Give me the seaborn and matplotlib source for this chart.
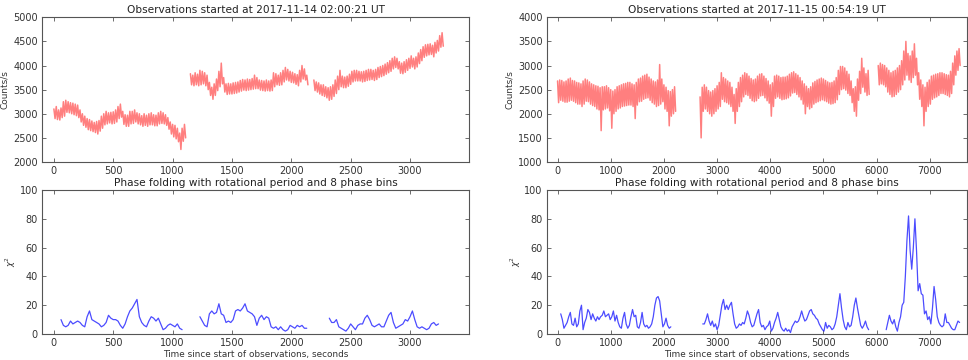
import numpy as np
import pandas as pd
import matplotlib
matplotlib.use("Agg")
import matplotlib.pyplot as plt
import seaborn as sns

# ---------------- data ----------------
titles_top = ["Observations started at 2017-11-14 02:00:21 UT",
              "Observations started at 2017-11-15 00:54:19 UT"]
title_bottom = "Phase folding with rotational period and 8 phase bins"
xlabel = "Time since start of observations, seconds"

# Light curves: upper and lower extent of the noisy count rate, sampled every `step` s.
# left panel (step 20 s)
l_rate_step = 20
l_seg1_start = 0
l_seg1_hi = [3100, 3150, 3080, 3120, 3250, 3280, 3250, 3230, 3220, 3200, 3180, 3080, 3000, 2950, 2900, 2880,
             2850, 2820, 2840, 2860, 2950, 3000, 3050, 3020, 3030, 3040, 3080, 3150, 3200, 3050, 2980, 2970,
             3050, 3050, 3080, 3020, 3000, 2960, 3000, 2970, 3000, 3020, 2980, 2970, 3020, 3050, 3020, 2980,
             2920, 2830, 2780, 2760, 2700, 2600, 2700, 2780]
l_seg1_lo = [2900, 2880, 2870, 2920, 2950, 3030, 3020, 3000, 2980, 2960, 2920, 2830, 2760, 2720, 2670, 2650,
             2630, 2610, 2580, 2640, 2700, 2770, 2790, 2810, 2790, 2800, 2830, 2900, 2930, 2780, 2740, 2740,
             2790, 2800, 2830, 2790, 2770, 2740, 2760, 2740, 2770, 2770, 2750, 2750, 2790, 2800, 2790, 2760,
             2680, 2580, 2520, 2480, 2420, 2260, 2430, 2500]
l_seg2_start = 1150
l_seg2_hi = [3830, 3800, 3850, 3820, 3900, 3880, 3850, 3800, 3650, 3550, 3620, 3720, 3880, 4050, 3750, 3620,
             3630, 3620, 3640, 3650, 3660, 3690, 3710, 3700, 3720, 3710, 3730, 3800, 3750, 3700, 3690, 3680,
             3700, 3680, 3700, 3850, 3830, 3800, 3850, 3900, 3960, 3920, 3880, 3860, 3830, 3810, 3900, 4000,
             3930, 3800]
l_seg2_lo = [3600, 3580, 3600, 3580, 3600, 3620, 3580, 3500, 3380, 3300, 3380, 3480, 3560, 3620, 3450, 3400,
             3410, 3410, 3420, 3430, 3450, 3470, 3490, 3480, 3490, 3500, 3510, 3520, 3520, 3490, 3480, 3470,
             3480, 3470, 3480, 3560, 3600, 3590, 3600, 3660, 3700, 3680, 3650, 3640, 3610, 3580, 3660, 3720,
             3700, 3600]
l_seg3_start = 2190
l_seg3_hi = [3700, 3660, 3640, 3600, 3600, 3560, 3540, 3560, 3600, 3700, 3780, 3900, 3780, 3760, 3780, 3820,
             3880, 3900, 3900, 3880, 3870, 3880, 3900, 3920, 3920, 3900, 3920, 3960, 3980, 4000, 4030, 4060,
             4100, 4150, 4180, 4150, 4080, 4050, 4080, 4120, 4150, 4200, 4150, 4180, 4260, 4330, 4390, 4430,
             4440, 4450, 4420, 4480, 4520, 4620, 4680]
l_seg3_lo = [3480, 3450, 3410, 3380, 3360, 3330, 3280, 3300, 3360, 3420, 3500, 3560, 3540, 3540, 3570, 3610,
             3660, 3680, 3680, 3680, 3660, 3670, 3690, 3700, 3710, 3690, 3710, 3750, 3770, 3790, 3820, 3850,
             3880, 3930, 3960, 3930, 3840, 3830, 3860, 3900, 3940, 3970, 3930, 3970, 4040, 4100, 4170, 4200,
             4220, 4230, 4180, 4260, 4300, 4380, 4400]

# right panel (step 40 s)
r_rate_step = 40
r_seg1_start = 0
r_seg1_hi = [2680, 2700, 2690, 2660, 2680, 2720, 2740, 2690, 2680, 2650, 2640, 2620, 2680, 2720, 2700, 2660,
             2620, 2600, 2580, 2570, 2540, 2560, 2560, 2580, 2540, 2500, 2470, 2500, 2560, 2580, 2600, 2620,
             2630, 2650, 2650, 2620, 2600, 2650, 2720, 2740, 2780, 2800, 2820, 2760, 2720, 2680, 2660, 2700,
             3020, 2720, 2600, 2550, 2480, 2460, 2500, 2560]
r_seg1_lo = [2230, 2280, 2260, 2240, 2240, 2260, 2280, 2260, 2230, 2200, 2200, 2150, 2200, 2260, 2250, 2200,
             2170, 2150, 2100, 2080, 1650, 2080, 2100, 2120, 2060, 1700, 2000, 2050, 2100, 2120, 2150, 2160,
             2170, 2180, 2180, 2150, 1900, 2180, 2250, 2260, 2300, 2320, 2330, 2280, 2230, 2200, 2150, 2170,
             2200, 2250, 2100, 2050, 1750, 1950, 2000, 2050]
r_seg2_start = 2680
r_seg2_hi = [2350, 2550, 2600, 2550, 2480, 2450, 2480, 2520, 2580, 2650, 2850, 2750, 2720, 2680, 2650, 2550,
             2400, 2520, 2650, 2750, 2800, 2850, 2830, 2780, 2730, 2700, 2720, 2780, 2820, 2830, 2780, 2730,
             2680, 2600, 2640, 2780, 2800, 2780, 2750, 2760, 2760, 2780, 2820, 2850, 2870, 2830, 2800, 2750,
             2680, 2620, 2570, 2520, 2560, 2640, 2670, 2700, 2720, 2740, 2720, 2690, 2660, 2640, 2650, 2680,
             2750, 2900, 2980, 2980, 2950, 2880, 2820, 2680, 2520, 2560, 2720, 2880, 3150, 2950, 2830, 2900]
r_seg2_lo = [1500, 2050, 2100, 2050, 2000, 1950, 2000, 2050, 2100, 2150, 2300, 2250, 2230, 2200, 2150, 2050,
             1800, 2050, 2150, 2250, 2350, 2400, 2380, 2320, 2270, 2250, 2270, 2320, 2370, 2380, 2330, 2270,
             2220, 1950, 2150, 2320, 2350, 2320, 2290, 2300, 2310, 2330, 2370, 2430, 2440, 2400, 2350, 2290,
             2200, 2000, 2150, 2100, 2130, 2200, 2230, 2250, 2270, 2290, 2270, 2250, 2220, 2200, 2210, 2230,
             2290, 2400, 2500, 2520, 2490, 2420, 2380, 2230, 2050, 1950, 2280, 2420, 2550, 2450, 2380, 2400]
r_seg3_start = 6030
r_seg3_hi = [3000, 3050, 3020, 3000, 2950, 2900, 2850, 2880, 2900, 2950, 3000, 3100, 3300, 3500, 3250, 3200,
             3300, 3450, 3150, 2850, 2700, 2600, 2550, 2650, 2700, 2780, 2800, 2820, 2830, 2850, 2850, 2830,
             2810, 2800, 2880, 3050, 3200, 3300, 3350]
r_seg3_lo = [2600, 2620, 2600, 2560, 2450, 2400, 2350, 2360, 2400, 2450, 2500, 2600, 2700, 2800, 2700, 2650,
             2750, 2800, 2600, 2300, 2150, 1750, 2050, 2150, 2200, 2300, 2330, 2350, 2380, 2420, 2420, 2400,
             2380, 2350, 2420, 2600, 2800, 2900, 3000]

# chi^2 curves
l_chi_step = 20
l_chi1_start = 60
l_chi1 = [10, 6, 5, 6, 9, 7, 8, 9, 8, 6, 5, 12, 16, 10, 9, 8, 7, 5, 6, 8, 13, 11, 10, 10, 9, 6, 4, 7, 12,
          16, 18, 21, 24, 12, 8, 6, 5, 9, 12, 11, 9, 11, 7, 3, 4, 6, 7, 6, 5, 7, 4, 3]
l_chi2_start = 1230
l_chi2 = [12, 9, 6, 5, 14, 16, 14, 15, 21, 14, 13, 8, 9, 8, 10, 16, 17, 16, 18, 21, 16, 15, 14, 12, 6, 11,
          13, 10, 12, 11, 5, 4, 5, 3, 5, 3, 2, 3, 6, 5, 4, 6, 5, 6, 4, 4]
l_chi3_start = 2320
l_chi3 = [11, 8, 8, 10, 5, 4, 3, 2, 4, 7, 5, 3, 6, 7, 7, 11, 13, 10, 6, 5, 6, 7, 5, 5, 9, 13, 15, 8, 4, 5,
          6, 7, 10, 9, 12, 16, 10, 5, 4, 5, 4, 3, 4, 7, 8, 6, 7]

r_chi_step = 30
r_chi1_start = 60
r_chi1 = [14, 10, 4, 6, 8, 12, 15, 7, 6, 11, 5, 7, 16, 20, 3, 8, 11, 17, 15, 10, 14, 11, 9, 12, 10, 12, 13,
          16, 12, 13, 14, 10, 12, 16, 9, 13, 8, 5, 4, 11, 15, 7, 4, 6, 12, 17, 12, 13, 5, 4, 8, 15, 7, 5, 6,
          4, 5, 7, 12, 20, 25, 26, 23, 14, 5, 7, 11, 6, 4, 5]
r_chi2_start = 2730
r_chi2 = [7, 7, 10, 14, 9, 6, 9, 5, 7, 3, 6, 13, 20, 24, 17, 20, 17, 20, 22, 14, 7, 4, 5, 7, 6, 8, 7, 11, 16,
          13, 8, 5, 6, 10, 14, 17, 8, 5, 6, 3, 5, 6, 9, 2, 4, 8, 11, 15, 10, 5, 3, 2, 4, 2, 3, 1, 5, 7, 9, 8,
          9, 12, 16, 12, 9, 10, 13, 16, 17, 14, 13, 11, 10, 7, 5, 3, 2, 8, 4, 6, 5, 3, 4, 7, 12, 20, 28, 18,
          10, 5, 3, 8, 5, 6, 12, 20, 25, 18, 12, 6, 4, 6, 9, 5, 3]
r_chi3_start = 6180
r_chi3 = [3, 8, 13, 9, 7, 10, 5, 2, 8, 12, 20, 22, 40, 65, 82, 58, 45, 60, 80, 58, 30, 35, 28, 27, 14, 16,
          10, 12, 7, 18, 33, 24, 12, 8, 6, 5, 6, 14, 8, 8, 6, 4, 3, 3, 6, 9, 8]

top_ylims = [(2000, 5000), (1000, 4000)]
top_yticks = [np.arange(2000, 5001, 500), np.arange(1000, 4001, 500)]
xlims = [(-100, 3500), (-200, 7700)]
xticks = [np.arange(0, 3001, 500), np.arange(0, 7001, 1000)]


def band_frame(segments, step):
    """Noisy light curve: the trace alternates between the upper and lower extent."""
    rows = []
    for k, (start, hi, lo) in enumerate(segments):
        n = min(len(hi), len(lo))
        v = np.empty(2 * n)
        v[0::2] = hi[:n]
        v[1::2] = lo[:n]
        t = start + (step / 2.0) * np.arange(2 * n)
        rows.append(pd.DataFrame({"t": t, "v": v, "seg": k}))
    return pd.concat(rows, ignore_index=True)


def frame(segments, step):
    rows = []
    for k, (start, vals) in enumerate(segments):
        t = start + step * np.arange(len(vals))
        rows.append(pd.DataFrame({"t": t, "v": vals, "seg": k}))
    return pd.concat(rows, ignore_index=True)


top_frames = [
    band_frame([(l_seg1_start, l_seg1_hi, l_seg1_lo), (l_seg2_start, l_seg2_hi, l_seg2_lo),
                (l_seg3_start, l_seg3_hi, l_seg3_lo)], l_rate_step),
    band_frame([(r_seg1_start, r_seg1_hi, r_seg1_lo), (r_seg2_start, r_seg2_hi, r_seg2_lo),
                (r_seg3_start, r_seg3_hi, r_seg3_lo)], r_rate_step)]
bot_frames = [frame([(l_chi1_start, l_chi1), (l_chi2_start, l_chi2), (l_chi3_start, l_chi3)], l_chi_step),
              frame([(r_chi1_start, r_chi1), (r_chi2_start, r_chi2), (r_chi3_start, r_chi3)], r_chi_step)]

# ---------------- style ----------------
sns.set_theme(style="white")
plt.rcParams.update({
    "font.family": ["DejaVu Sans"],
    "axes.edgecolor": "#555555",
    "axes.linewidth": 0.8,
    "xtick.direction": "in",
    "ytick.direction": "in",
    "xtick.top": True,
    "ytick.right": True,
    "xtick.bottom": True,
    "ytick.left": True,
    "xtick.major.size": 3,
    "ytick.major.size": 3,
    "xtick.major.width": 0.6,
    "ytick.major.width": 0.6,
    "xtick.major.pad": 3,
    "ytick.major.pad": 3,
    "xtick.color": "#555555",
    "ytick.color": "#555555",
    "xtick.labelcolor": "#333333",
    "ytick.labelcolor": "#333333",
    "xtick.labelsize": 7,
    "ytick.labelsize": 7,
    "axes.labelsize": 6.4,
    "axes.titlesize": 7.6,
    "text.color": "#222222",
    "axes.labelcolor": "#333333",
})

fig = plt.figure(figsize=(9.68, 3.6), dpi=100)
lefts = [0.0434, 0.565]
widths = [0.4415, 0.434]

for i in range(2):
    axt = fig.add_axes([lefts[i], 0.55, widths[i], 0.402])
    sns.lineplot(data=top_frames[i], x="t", y="v", units="seg", estimator=None,
                 color="red", alpha=0.5, lw=1.1, ax=axt)
    axt.set_xlim(*xlims[i])
    axt.set_ylim(*top_ylims[i])
    axt.set_xticks(xticks[i])
    axt.set_yticks(top_yticks[i])
    axt.set_title(titles_top[i], pad=3)
    axt.set_xlabel("")
    axt.set_ylabel("Counts/s", labelpad=3)
    for s in axt.spines.values():
        s.set_visible(True)

    axb = fig.add_axes([lefts[i], 0.0722, widths[i], 0.4])
    sns.lineplot(data=bot_frames[i], x="t", y="v", units="seg", estimator=None,
                 color="blue", alpha=0.7, lw=0.9, ax=axb)
    axb.set_xlim(*xlims[i])
    axb.set_ylim(0, 100)
    axb.set_xticks(xticks[i])
    axb.set_yticks(np.arange(0, 101, 20))
    axb.set_title(title_bottom, pad=3)
    axb.set_xlabel(xlabel, labelpad=1)
    axb.set_ylabel(r"$\chi^2$", labelpad=1, fontsize=6)
    for s in axb.spines.values():
        s.set_visible(True)

fig.savefig("out.png", dpi=100)
